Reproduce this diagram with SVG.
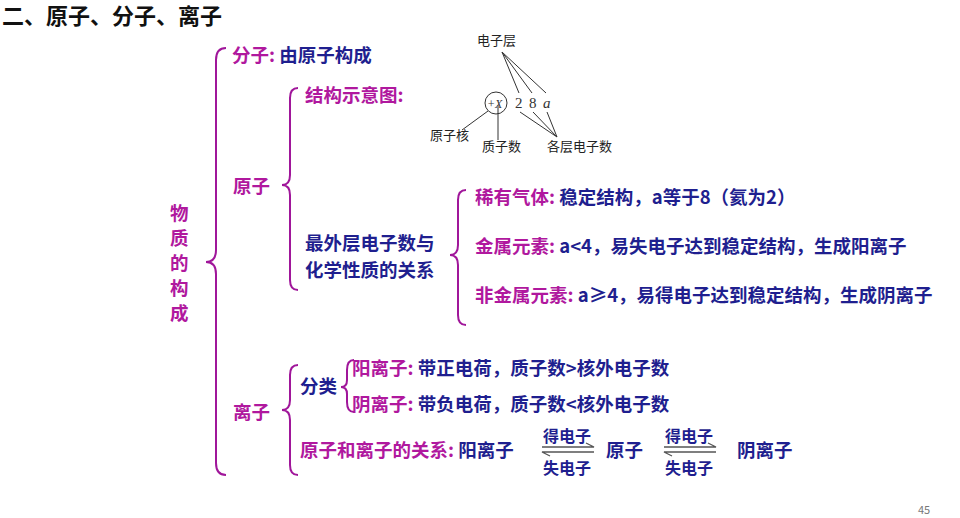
<svg xmlns="http://www.w3.org/2000/svg" width="960" height="518" viewBox="0 0 960 518">
<style>
text{font-family:"Noto Sans CJK SC","Liberation Sans",sans-serif;font-size:18.5px;font-weight:bold}
.m{fill:#b0189e}.b{fill:#1f1f8f}.k{fill:#111}
.s{font-size:13px;font-weight:normal;fill:#222}
.n{font-family:"Liberation Serif",serif;font-weight:normal;fill:#333;font-size:15px}
.br{fill:none;stroke:#a0169a;stroke-width:2}
.ln{stroke:#333;stroke-width:1;fill:none}
.ar{stroke:#555;stroke-width:1.3;fill:none}
</style>
<rect width="960" height="518" fill="#fff"/>
<text x="2" y="24" class="k" style="font-size:22px">二、原子、分子、离子</text>
<g id="braces">
<path class="br" d="M226,48 Q216,48 216,60 L216,250 Q216,262 206,262 Q216,262 216,274 L216,463 Q216,475 226,475"/>
<path class="br" d="M298,88 Q290,88 290,98 L290,175 Q290,185 282,185 Q290,185 290,195 L290,280 Q290,290 298,290"/>
<path class="br" d="M466,190 Q458,190 458,200 L458,245 Q458,255 450,255 Q458,255 458,265 L458,315 Q458,325 466,325"/>
<path class="br" d="M298,365 Q290,365 290,375 L290,400 Q290,410 282,410 Q290,410 290,420 L290,465 Q290,475 298,475"/>
<path class="br" d="M354,360 Q347,360 347,370 L347,380 Q347,387 341,387 Q347,387 347,394 L347,402 Q347,412 354,412"/>
</g>
<g id="root"><text class="m" x="170" y="220">物</text><text class="m" x="170" y="245">质</text><text class="m" x="170" y="270">的</text><text class="m" x="170" y="295">构</text><text class="m" x="170" y="320">成</text></g>
<g id="molecule"><text x="232" y="62"><tspan class="m">分子:</tspan><tspan class="b"> 由原子构成</tspan></text></g>
<g id="atom"><text class="m" x="233" y="193">原子</text></g>
<g id="structure"><text class="m" x="305" y="102">结构示意图:</text>
<circle cx="496" cy="103" r="11" fill="none" stroke="#333"/>
<text x="487" y="108" class="n" style="font-size:12px;font-style:italic">+X</text>
<text x="515" y="108" class="n">2</text>
<text x="529" y="108" class="n">8</text>
<text x="543" y="108" class="n" style="font-style:italic">a</text>
<text class="s" x="477" y="45">电子层</text>
<text class="s" x="430" y="140">原子核</text>
<text class="s" x="482" y="151">质子数</text>
<text class="s" x="547" y="151">各层电子数</text>
<path class="ln" d="M502,52 L519,93 M502,52 L532,93 M502,52 L546,93 M488,111 L462,130 M498,105 L498,140 M520,112 L557,137 M533,112 L557,137 M547,112 L557,137"/>
</g>
<g id="outer"><text class="b" x="305" y="250">最外层电子数与</text><text class="b" x="305" y="277">化学性质的关系</text></g>
<g id="noble"><text x="475" y="204"><tspan class="m">稀有气体:</tspan><tspan class="b"> 稳定结构，a等于8（氦为2）</tspan></text></g>
<g id="metal"><text x="475" y="253"><tspan class="m">金属元素:</tspan><tspan class="b"> a&lt;4，易失电子达到稳定结构，生成阳离子</tspan></text></g>
<g id="nonmetal"><text x="475" y="302"><tspan class="m">非金属元素:</tspan><tspan class="b"> a≥4，易得电子达到稳定结构，生成阴离子</tspan></text></g>
<g id="ion"><text class="m" x="233" y="419">离子</text></g>
<g id="classify"><text class="b" x="300" y="393">分类</text></g>
<g id="cation"><text x="352" y="375"><tspan class="m">阳离子:</tspan><tspan class="b"> 带正电荷，质子数&gt;核外电子数</tspan></text></g>
<g id="anion"><text x="352" y="411"><tspan class="m">阴离子:</tspan><tspan class="b"> 带负电荷，质子数&lt;核外电子数</tspan></text></g>
<g id="relation"><text x="300" y="457"><tspan class="m">原子和离子的关系:</tspan><tspan class="b"> 阳离子</tspan></text>
<text class="b" x="606" y="457">原子</text><text class="b" x="737" y="457">阴离子</text>
<text class="b" x="543" y="442" style="font-size:16px">得电子</text><text class="b" x="543" y="474" style="font-size:16px">失电子</text>
<text class="b" x="665" y="442" style="font-size:16px">得电子</text><text class="b" x="665" y="474" style="font-size:16px">失电子</text>
</g>
<g id="connectors">
<path class="ar" d="M542,447 L594,447 L586,443 M594,452 L542,452 L550,456"/>
<path class="ar" d="M664,447 L716,447 L708,443 M716,452 L664,452 L672,456"/>
</g>
<text x="918" y="514" style="font-size:11px;font-weight:normal;fill:#777">45</text>
</svg>
